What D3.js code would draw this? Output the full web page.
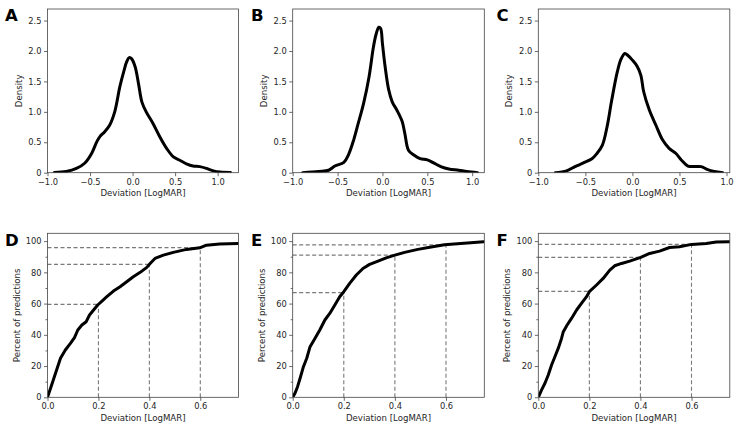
<!DOCTYPE html>
<html><head><meta charset="utf-8">
<script src="https://cdn.jsdelivr.net/npm/d3@7/dist/d3.min.js"></script>
<style>
html,body{margin:0;padding:0;background:#fff;}
svg{display:block;font-family:"DejaVu Sans",sans-serif;}
</style></head>
<body><svg id="chart" width="741" height="432"></svg>
<script>
// ---------- DATA ----------
const panelLetters = ["A","B","C","D","E","F"];
const kdeXTicks = [-1.0,-0.5,0.0,0.5,1.0];
const kdeXTickLabels = ["\u22121.0","\u22120.5","0.0","0.5","1.0"];
const kdeYTicks = [0,0.5,1.0,1.5,2.0,2.5];
const kdeYTickLabels = ["0","0.5","1.0","1.5","2.0","2.5"];
const cdfXTicks = [0.0,0.2,0.4,0.6];
const cdfXTickLabels = ["0.0","0.2","0.4","0.6"];
const cdfYTicks = [0,20,40,60,80,100];
const cdfYMinorTicks = [10,30,50,70,90];
const xLabel = "Deviation [LogMAR]";
const kdeYLabel = "Density";
const cdfYLabel = "Percent of predictions";

// KDE panel A
const kdeA_x = [-0.92,-0.78,-0.66,-0.56,-0.48,-0.42,-0.38,-0.33,-0.27,-0.21,-0.15,-0.10,-0.07,-0.04,-0.01,0.03,0.07,0.11,0.16,0.24,0.32,0.40,0.48,0.56,0.64,0.71,0.79,0.87,0.95,1.03,1.15];
const kdeA_y = [0.005,0.02,0.07,0.16,0.32,0.51,0.60,0.67,0.78,1.00,1.41,1.68,1.82,1.89,1.87,1.74,1.46,1.16,1.00,0.81,0.59,0.40,0.26,0.20,0.14,0.11,0.10,0.07,0.03,0.01,0.005];
// KDE panel B
const kdeB_x = [-0.89,-0.71,-0.60,-0.53,-0.43,-0.38,-0.32,-0.27,-0.21,-0.15,-0.10,-0.07,-0.04,-0.02,0.00,0.03,0.07,0.11,0.16,0.22,0.25,0.29,0.35,0.42,0.50,0.57,0.65,0.74,0.85,0.94,1.06];
const kdeB_y = [0.0,0.02,0.04,0.11,0.17,0.29,0.54,0.81,1.14,1.57,2.07,2.28,2.39,2.37,2.12,1.74,1.36,1.16,1.03,0.84,0.64,0.37,0.29,0.23,0.21,0.16,0.10,0.06,0.04,0.02,0.0];
// KDE panel C
const kdeC_x = [-0.82,-0.70,-0.61,-0.52,-0.43,-0.38,-0.32,-0.27,-0.22,-0.16,-0.12,-0.08,-0.05,0.00,0.05,0.09,0.12,0.18,0.25,0.32,0.39,0.46,0.52,0.59,0.66,0.73,0.80,0.87,0.96];
const kdeC_y = [0.0,0.03,0.10,0.16,0.23,0.31,0.45,0.75,1.19,1.66,1.87,1.96,1.93,1.85,1.75,1.60,1.33,1.03,0.78,0.54,0.40,0.32,0.21,0.11,0.10,0.10,0.05,0.02,0.0];

// CDF panel D
const cdfD_x = [0,0.012,0.025,0.038,0.051,0.070,0.090,0.106,0.119,0.135,0.152,0.165,0.181,0.197,0.214,0.233,0.259,0.285,0.311,0.337,0.364,0.390,0.403,0.422,0.455,0.494,0.546,0.598,0.624,0.676,0.748];
const cdfD_y = [0,5.8,12.2,18.6,25,30.3,34.5,38.2,43.1,46.3,48.4,52.7,55.9,59.1,61.6,64.4,68,70.8,74,77.2,80,83.2,85.7,88.9,91,92.8,94.7,95.7,97.4,98.1,98.5];
// CDF panel E
const cdfE_x = [0,0.009,0.019,0.029,0.042,0.055,0.068,0.087,0.106,0.126,0.145,0.165,0.184,0.2,0.223,0.249,0.275,0.301,0.334,0.366,0.4,0.438,0.49,0.542,0.594,0.645,0.697,0.747];
const cdfE_y = [0,2.6,6.8,12.2,19.6,25,32.4,37.7,43.1,49.5,53.7,59.1,64.4,67.6,72.9,78.3,82.5,85.1,87.2,89.3,91,92.8,94.7,96.2,97.7,98.3,98.9,99.6];
// CDF panel F
const cdfF_x = [0,0.013,0.026,0.039,0.052,0.065,0.078,0.091,0.098,0.113,0.130,0.15,0.169,0.189,0.2,0.228,0.254,0.28,0.299,0.326,0.358,0.401,0.436,0.475,0.514,0.553,0.6,0.658,0.697,0.749];
const cdfF_y = [0,4.7,9,14.3,20.7,26,31.3,37.7,42,46.3,50.5,55.9,60.1,64.4,67.6,71.9,76.1,81.4,84.2,85.7,87.2,89.6,92.1,93.6,95.9,96.4,97.9,98.5,99.4,99.6];

// Reference (dashed) lines: threshold x and percent reached
const refX = [0.2,0.4,0.6];
const refD = [59.5,85.1,95.8];
const refE = [67.0,91.0,97.6];
const refF = [67.8,89.6,97.9];

// axis limits
const kdeXMax = [1.245,1.135,1.035];
const kdeYMax = 2.69;
const cdfXMax = 0.75;
const cdfYMax = 105;

// ---------- LAYOUT ----------
const svg = d3.select("#chart");
const colLeft = [47.5,292.7,538.3];
const colRight = [238.5,484.3,729.8];
const topRow = {y0:9, y1:172.7};
const botRow = {y0:233.3, y1:397.3};
const axisColor = "#444";
const textColor = "#262626";

function styleAxis(g){
  g.select(".domain").remove();
  g.selectAll(".tick line").attr("stroke",axisColor).attr("stroke-width",0.8);
  g.selectAll(".tick text").attr("fill",textColor).attr("font-size","8.3px").attr("font-family","DejaVu Sans, sans-serif");
}

function panel(i, row, xDomain, yDomain, xt, xtl, yt, ytl, ylab, isCdf, xs, ys, refs){
  const L = colLeft[i], R = colRight[i];
  const x = d3.scaleLinear().domain(xDomain).range([L,R]);
  const y = d3.scaleLinear().domain(yDomain).range([row.y1,row.y0]);
  const g = svg.append("g");

  if(refs){
    refs.forEach((p,k)=>{
      g.append("line").attr("x1",x(0)).attr("x2",x(refX[k])).attr("y1",y(p)).attr("y2",y(p))
        .attr("stroke","#7a7a7a").attr("stroke-width",1.1).attr("stroke-dasharray","4,2.5");
      g.append("line").attr("x1",x(refX[k])).attr("x2",x(refX[k])).attr("y1",y(0)).attr("y2",y(p))
        .attr("stroke","#7a7a7a").attr("stroke-width",1.1).attr("stroke-dasharray","4,2.5");
    });
  }

  const pts = xs.map((v,k)=>[v,ys[k]]);
  const line = d3.line().x(d=>x(d[0])).y(d=>y(d[1]))
     .curve(isCdf ? d3.curveLinear : d3.curveCatmullRom.alpha(0.5));
  const cp = "clip"+i+(isCdf?"b":"t");
  svg.append("clipPath").attr("id",cp).append("rect")
     .attr("x",L).attr("y",row.y0-2).attr("width",R-L).attr("height",row.y1-row.y0+2);
  g.append("path").datum(pts).attr("d",line).attr("fill","none")
     .attr("stroke","#000").attr("stroke-width",3).attr("stroke-linejoin","round").attr("stroke-linecap","round")
     .attr("clip-path","url(#"+cp+")");

  const ax = g.append("g").attr("transform",`translate(0,${row.y1})`)
     .call(d3.axisBottom(x).tickValues(xt).tickFormat((d,k)=>xtl[k]).tickSize(3.5).tickPadding(2.5));
  styleAxis(ax);
  const ay = g.append("g").attr("transform",`translate(${L},0)`)
     .call(d3.axisLeft(y).tickValues(yt).tickFormat((d,k)=>ytl[k]).tickSize(3.5).tickPadding(2.5));
  styleAxis(ay);
  if(isCdf){
    const am = g.append("g").attr("transform",`translate(${L},0)`)
      .call(d3.axisLeft(y).tickValues(cdfYMinorTicks).tickFormat("").tickSize(2));
    styleAxis(am);
  }

  g.append("rect").attr("x",L).attr("y",row.y0).attr("width",R-L).attr("height",row.y1-row.y0)
    .attr("fill","none").attr("stroke",axisColor).attr("stroke-width",0.8);

  g.append("text").attr("x",(L+R)/2).attr("y",row.y1+23.5).attr("text-anchor","middle")
    .attr("font-size","8.6px").attr("fill",textColor).text(xLabel);
  const ylx = isCdf ? L-28 : L-26;
  g.append("text").attr("transform",`translate(${ylx},${(row.y0+row.y1)/2}) rotate(-90)`)
    .attr("text-anchor","middle").attr("font-size","8.6px").attr("fill",textColor).text(ylab);

  const letterX = [5,251,496.5][i];
  g.append("text").attr("x",letterX).attr("y",row.y0+12.3)
    .attr("font-size","16.5px").attr("font-weight","900").attr("fill","#000")
    .attr("font-family","DejaVu Sans, sans-serif")
    .text(panelLetters[i + (isCdf?3:0)]);
}

const kdeX = [kdeA_x,kdeB_x,kdeC_x], kdeY = [kdeA_y,kdeB_y,kdeC_y];
const cdfX = [cdfD_x,cdfE_x,cdfF_x], cdfY = [cdfD_y,cdfE_y,cdfF_y];
const refs = [refD,refE,refF];
for(let i=0;i<3;i++){
  panel(i, topRow, [-1,kdeXMax[i]], [0,kdeYMax], kdeXTicks, kdeXTickLabels, kdeYTicks, kdeYTickLabels, kdeYLabel, false, kdeX[i], kdeY[i], null);
  panel(i, botRow, [0,cdfXMax], [0,cdfYMax], cdfXTicks, cdfXTickLabels, cdfYTicks, cdfYTicks.map(String), cdfYLabel, true, cdfX[i], cdfY[i], refs[i]);
}
</script></body></html>
